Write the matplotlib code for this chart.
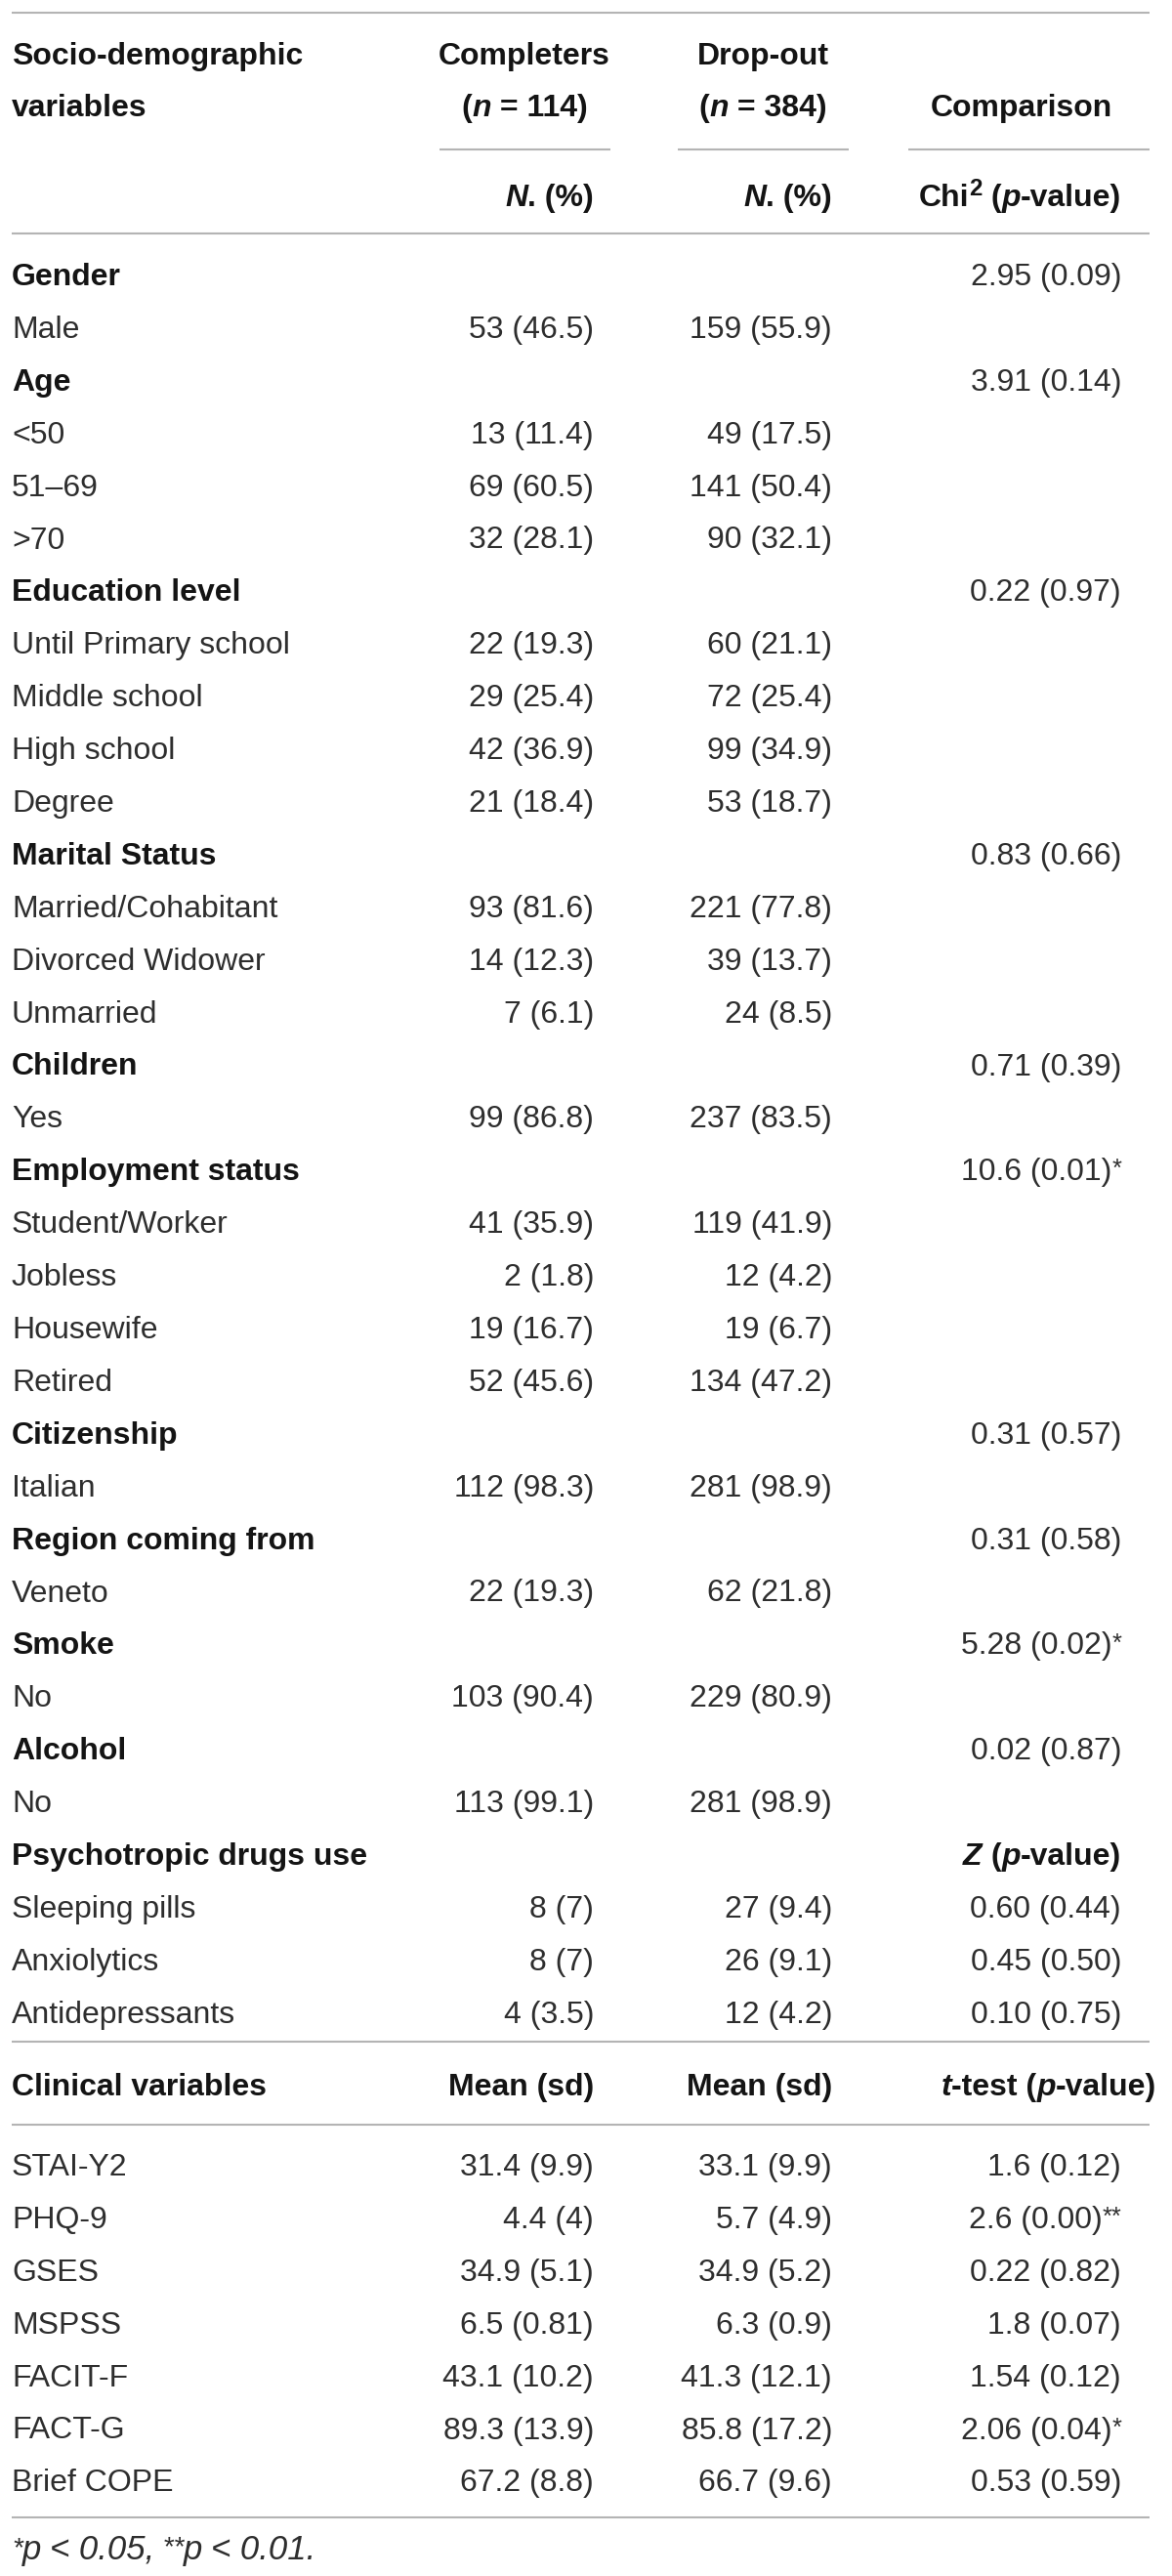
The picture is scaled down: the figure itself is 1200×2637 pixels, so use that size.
import matplotlib
matplotlib.use("Agg")
import matplotlib.pyplot as plt

plt.rcParams["font.family"] = ["Liberation Sans", "DejaVu Sans"]

# ---- data -------------------------------------------------------------
n_completers = 114
n_dropout = 384

socio_labels = [
    "Gender", "Male",
    "Age", "<50", "51–69", ">70",
    "Education level", "Until Primary school", "Middle school", "High school", "Degree",
    "Marital Status", "Married/Cohabitant", "Divorced Widower", "Unmarried",
    "Children", "Yes",
    "Employment status", "Student/Worker", "Jobless", "Housewife", "Retired",
    "Citizenship", "Italian",
    "Region coming from", "Veneto",
    "Smoke", "No",
    "Alcohol", "No",
    "Psychotropic drugs use", "Sleeping pills", "Anxiolytics", "Antidepressants",
]
socio_is_group = [
    True, False,
    True, False, False, False,
    True, False, False, False, False,
    True, False, False, False,
    True, False,
    True, False, False, False, False,
    True, False,
    True, False,
    True, False,
    True, False,
    True, False, False, False,
]
socio_completers = [
    "", "53 (46.5)",
    "", "13 (11.4)", "69 (60.5)", "32 (28.1)",
    "", "22 (19.3)", "29 (25.4)", "42 (36.9)", "21 (18.4)",
    "", "93 (81.6)", "14 (12.3)", "7 (6.1)",
    "", "99 (86.8)",
    "", "41 (35.9)", "2 (1.8)", "19 (16.7)", "52 (45.6)",
    "", "112 (98.3)",
    "", "22 (19.3)",
    "", "103 (90.4)",
    "", "113 (99.1)",
    "", "8 (7)", "8 (7)", "4 (3.5)",
]
socio_dropout = [
    "", "159 (55.9)",
    "", "49 (17.5)", "141 (50.4)", "90 (32.1)",
    "", "60 (21.1)", "72 (25.4)", "99 (34.9)", "53 (18.7)",
    "", "221 (77.8)", "39 (13.7)", "24 (8.5)",
    "", "237 (83.5)",
    "", "119 (41.9)", "12 (4.2)", "19 (6.7)", "134 (47.2)",
    "", "281 (98.9)",
    "", "62 (21.8)",
    "", "229 (80.9)",
    "", "281 (98.9)",
    "", "27 (9.4)", "26 (9.1)", "12 (4.2)",
]
socio_comparison = [
    "2.95 (0.09)", "",
    "3.91 (0.14)", "", "", "",
    "0.22 (0.97)", "", "", "", "",
    "0.83 (0.66)", "", "", "",
    "0.71 (0.39)", "",
    "10.6 (0.01)*", "", "", "", "",
    "0.31 (0.57)", "",
    "0.31 (0.58)", "",
    "5.28 (0.02)*", "",
    "0.02 (0.87)", "",
    "Z", "0.60 (0.44)", "0.45 (0.50)", "0.10 (0.75)",
]

clinical_labels = ["STAI-Y2", "PHQ-9", "GSES", "MSPSS", "FACIT-F", "FACT-G", "Brief COPE"]
clinical_completers = ["31.4 (9.9)", "4.4 (4)", "34.9 (5.1)", "6.5 (0.81)",
                       "43.1 (10.2)", "89.3 (13.9)", "67.2 (8.8)"]
clinical_dropout = ["33.1 (9.9)", "5.7 (4.9)", "34.9 (5.2)", "6.3 (0.9)",
                    "41.3 (12.1)", "85.8 (17.2)", "66.7 (9.6)"]
clinical_ttest = ["1.6 (0.12)", "2.6 (0.00)**", "0.22 (0.82)", "1.8 (0.07)",
                  "1.54 (0.12)", "2.06 (0.04)*", "0.53 (0.59)"]

# ---- layout ------------------------------------------------------------
W, H = 1200, 2637
FS = 23
TXT = "#2e2e2e"
HDR = "#141414"
RULE = "#b4b4b4"

X_LABEL = 12
X_COMP = 608      # right edge, completers column
X_DROP = 852      # right edge, drop-out column
X_STAT = 1148     # right edge, comparison column
LINE_L, LINE_R = 12, 1177

fig = plt.figure(figsize=(W / 100, H / 100), dpi=100)
ax = fig.add_axes([0, 0, 1, 1])
ax.set_xlim(0, W)
ax.set_ylim(H, 0)
ax.axis("off")
renderer = fig.canvas.get_renderer()


def runs(x, y, parts, ha="left", size=FS):
    # parts: (text, bold, italic, size scale, rise in px)
    arts, widths = [], []
    for s, bold, italic, scale, rise in parts:
        t = ax.text(0, y - rise, s, fontsize=size * scale,
                    fontweight="bold" if bold else "normal",
                    fontstyle="italic" if italic else "normal",
                    color=HDR if bold else TXT, ha="left", va="baseline")
        arts.append(t)
        widths.append(t.get_window_extent(renderer).width)
    total = sum(widths)
    x0 = {"left": x, "right": x - total, "center": x - total / 2}[ha]
    for t, w in zip(arts, widths):
        t.set_x(x0)
        x0 += w


def B(s):
    return (s, True, False, 1, 0)


def BI(s):
    return (s, True, True, 1, 0)


def value(x, y, s):
    if not s:
        return
    core = s.rstrip("*")
    stars = s[len(core):]
    parts = [(core, False, False, 1, 0)]
    if stars:
        parts.append((stars, False, False, 0.8, 4))
    runs(x, y, parts, "right")


def rule(y, x0=LINE_L, x1=LINE_R):
    ax.plot([x0, x1], [y, y], color=RULE, lw=1.5, solid_capstyle="butt")


# header
rule(13)
runs(X_LABEL, 66, [B("Socio-demographic")])
runs(X_LABEL, 119, [B("variables")])
runs(537, 66, [B("Completers")], "center")
runs(537, 119, [B("("), BI("n"), B(f" = {n_completers})")], "center")
runs(781, 66, [B("Drop-out")], "center")
runs(781, 119, [B("("), BI("n"), B(f" = {n_dropout})")], "center")
runs(1046, 119, [B("Comparison")], "center")
rule(153, 450, 625)
rule(153, 694, 869)
rule(153, 930, 1177)
runs(X_COMP, 211, [BI("N"), B(". (%)")], "right")
runs(X_DROP, 211, [BI("N"), B(". (%)")], "right")
runs(X_STAT, 211, [B("Chi"), ("2", True, False, 0.75, 11), B(" ("), BI("p"), B("-value)")],
     "right")
rule(239)

# socio-demographic rows
y0, step = 292, 53.9
for i, lab in enumerate(socio_labels):
    y = y0 + i * step
    if socio_is_group[i]:
        runs(X_LABEL, y, [B(lab)])
    else:
        runs(X_LABEL, y, [(lab, False, False, 1, 0)])
    value(X_COMP, y, socio_completers[i])
    value(X_DROP, y, socio_dropout[i])
    stat = socio_comparison[i]
    if stat == "Z":
        runs(X_STAT, y, [BI("Z"), B(" ("), BI("p"), B("-value)")], "right")
    else:
        value(X_STAT, y, stat)

# clinical block
rule(2090)
runs(X_LABEL, 2145, [B("Clinical variables")])
runs(X_COMP, 2145, [B("Mean (sd)")], "right")
runs(X_DROP, 2145, [B("Mean (sd)")], "right")
runs(1184, 2145, [BI("t"), B("-test ("), BI("p"), B("-value)")], "right")
rule(2175)
y0 = 2227
for i, lab in enumerate(clinical_labels):
    y = y0 + i * step
    runs(X_LABEL, y, [(lab, False, False, 1, 0)])
    value(X_COMP, y, clinical_completers[i])
    value(X_DROP, y, clinical_dropout[i])
    value(X_STAT, y, clinical_ttest[i])
rule(2577)

# footnote
runs(X_LABEL, 2620, [("*", False, True, 0.8, 4), ("p < 0.05,", False, True, 1, 0),
                     (" **", False, True, 0.8, 4), ("p < 0.01.", False, True, 1, 0)],
     size=25)

fig.savefig("out.png", dpi=100, facecolor="white")
